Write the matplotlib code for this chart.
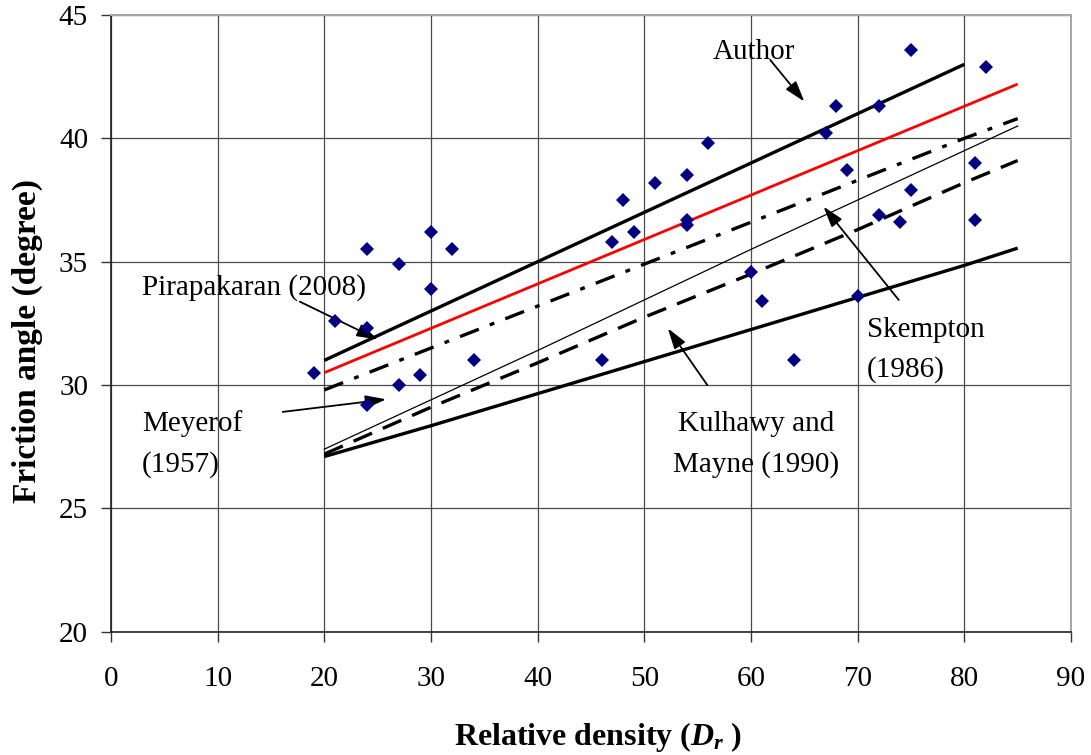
import matplotlib
matplotlib.use("Agg")
import matplotlib.pyplot as plt

plt.rcParams['font.family'] = ['Liberation Serif', 'DejaVu Serif']
plt.rcParams['mathtext.fontset'] = 'custom'
plt.rcParams['mathtext.rm'] = 'Liberation Serif:bold'
plt.rcParams['mathtext.it'] = 'Liberation Serif:italic:bold'
plt.rcParams['lines.scale_dashes'] = False

# Measured friction angles against relative density
dr_obs = [19, 21, 24, 24, 24, 27, 27, 29, 30, 30, 32, 34, 46, 47, 48, 49, 51, 54,
          54, 54, 56, 60, 61, 64, 67, 68, 69, 70, 72, 72, 74, 75, 75, 81, 81, 82]
phi_obs = [30.5, 32.6, 35.5, 32.3, 29.2, 34.9, 30.0, 30.4, 36.2, 33.9, 35.5, 31.0,
           31.0, 35.8, 37.5, 36.2, 38.2, 38.5, 36.7, 36.5, 39.8, 34.6, 33.4, 31.0,
           40.2, 41.3, 38.7, 33.6, 41.3, 36.9, 36.6, 43.6, 37.9, 39.0, 36.7, 42.9]

# Correlation curves
dr_upper = [20, 30, 40, 50, 60, 70, 80]
phi_upper = [31.0, 33.0, 35.0, 37.0, 39.0, 41.0, 43.0]

dr_curve = [20, 30, 40, 50, 60, 70, 80, 85]
phi_red = [30.5, 32.3, 34.1, 35.9, 37.7, 39.5, 41.3, 42.2]
phi_dashdot = [29.8, 31.5, 33.2, 34.9, 36.6, 38.3, 40.0, 40.8]
phi_thin = [27.4, 29.4, 31.4, 33.45, 35.5, 37.5, 39.5, 40.5]
phi_dashed = [27.2, 29.1, 30.9, 32.75, 34.5, 36.3, 38.2, 39.1]
phi_lower = [27.1, 28.35, 29.65, 30.95, 32.25, 33.55, 34.85, 35.55]

x_ticks = [0, 10, 20, 30, 40, 50, 60, 70, 80, 90]
y_ticks = [20, 25, 30, 35, 40, 45]

fig = plt.figure(figsize=(10.91, 7.55), dpi=100)
ax = fig.add_axes([0.10174, 0.16331, 0.87993, 0.81682])

ax.set_xlim(0, 90)
ax.set_ylim(20, 45)
ax.set_xticks(x_ticks)
ax.set_yticks(y_ticks)
ax.grid(True, color='#4a4a4a', lw=0.9)
ax.set_axisbelow(True)

for side in ('top', 'right'):
    ax.spines[side].set_color('#a6a6a6')
    ax.spines[side].set_linewidth(1.5)
for side in ('left', 'bottom'):
    ax.spines[side].set_color('#222222')
    ax.spines[side].set_linewidth(1.2)

ax.tick_params(axis='both', direction='out', length=7, width=1.0,
               color='#333333', labelsize=21)
ax.tick_params(axis='x', pad=18)
ax.tick_params(axis='y', pad=9.5)

ax.plot(dr_upper, phi_upper, color='black', lw=2.4, solid_capstyle='butt')
ax.plot(dr_curve, phi_red, color='#ff0000', lw=2.0, solid_capstyle='butt')
ax.plot(dr_curve, phi_dashdot, color='black', lw=2.4,
        linestyle=(0, (14.5, 8.5, 3.5, 8.5)), dash_capstyle='butt')
ax.plot(dr_curve, phi_thin, color='black', lw=0.9)
ax.plot(dr_curve, phi_dashed, color='black', lw=2.4,
        linestyle=(0, (14.5, 8.5)), dash_capstyle='butt')
ax.plot(dr_curve, phi_lower, color='black', lw=2.4, solid_capstyle='butt')

ax.plot(dr_obs, phi_obs, linestyle='none', marker='D', markersize=7.2,
        color='#000080', markeredgewidth=0, zorder=5)

# Curve labels and pointers
fs = 21
ax.text(56.4, 43.5, 'Author', fontsize=fs, ha='left', va='center')
ax.text(2.9, 33.97, 'Pirapakaran (2008)', fontsize=fs, ha='left', va='center')
ax.text(2.9, 28.42, 'Meyerof', fontsize=fs, ha='left', va='center')
ax.text(2.9, 26.76, '(1957)', fontsize=fs, ha='left', va='center')
ax.text(70.85, 32.23, 'Skempton', fontsize=fs, ha='left', va='center')
ax.text(70.85, 30.61, '(1986)', fontsize=fs, ha='left', va='center')
ax.text(60.5, 28.42, 'Kulhawy and', fontsize=fs, ha='center', va='center')
ax.text(60.5, 26.76, 'Mayne (1990)', fontsize=fs, ha='center', va='center')

arrow_kw = dict(arrowstyle='-|>,head_length=0.7,head_width=0.22',
                color='black', lw=1.3, shrinkA=0, shrinkB=0)
pointers = [
    ((61.8, 43.18), (65.0, 41.49)),
    ((17.7, 33.38), (25.0, 31.85)),
    ((16.1, 28.91), (25.8, 29.42)),
    ((73.85, 33.45), (66.8, 37.23)),
    ((55.9, 30.0), (52.2, 32.3)),
]
for tail, head in pointers:
    ax.annotate('', xy=head, xytext=tail, arrowprops=dict(mutation_scale=18, **arrow_kw))

fig.text(0.0255, 0.549, 'Friction angle (degree)', rotation=90, fontsize=24,
         fontweight='bold', ha='center', va='center')
fig.text(0.548, 0.024, r'Relative density ($D_{r}$ )', fontsize=23,
         fontweight='bold', ha='center', va='center')

fig.savefig('out.png', dpi=100)
